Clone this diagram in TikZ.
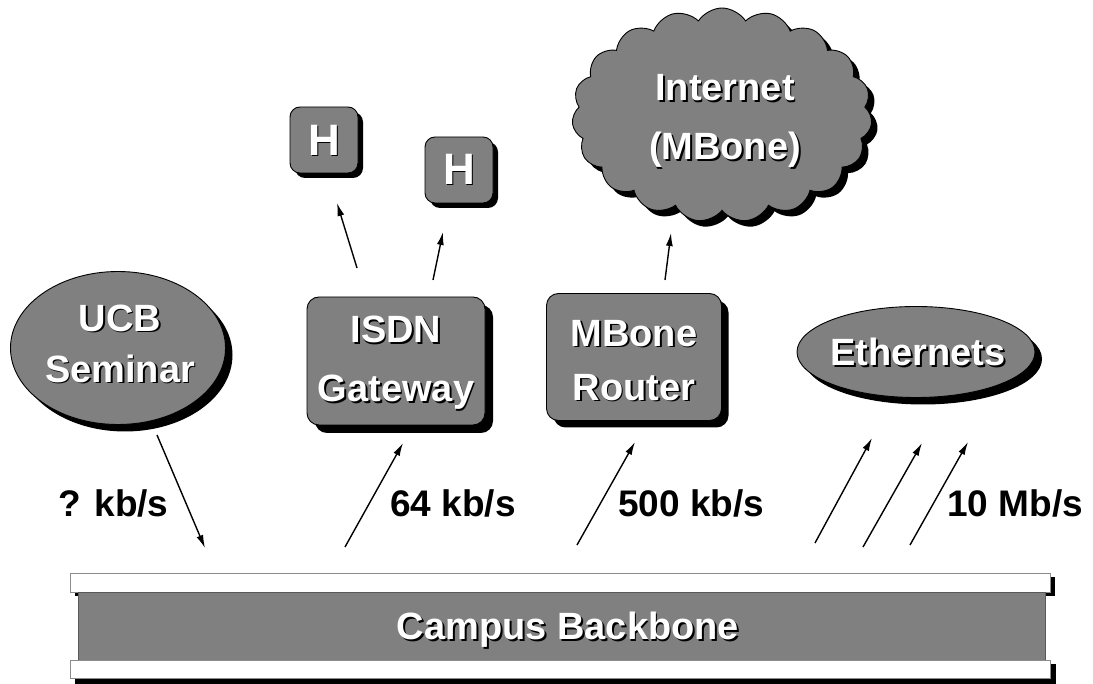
\documentclass[tikz,border=0pt]{standalone}
\usepackage{fontspec}
\setmainfont{Liberation Sans}
\usetikzlibrary{shapes.geometric,shapes.symbols,shadows,arrows.meta}

\definecolor{netgray}{RGB}{128,128,128}

% white lettering with a small black drop shadow
\newcommand\emb[1]{\leavevmode\rlap{\kern1.7pt\raisebox{-1.7pt}{\textcolor{black}{#1}}}\textcolor{white}{#1}}

\begin{document}
\begin{tikzpicture}[x=1pt,y=-1pt,
  unit/.style={fill=netgray, draw=black, line width=0.9pt, inner sep=0pt},
  unittext/.style={inner sep=0pt, align=center,
    font=\bfseries\fontsize{38}{50}\selectfont},
  boxshadow/.style={drop shadow={shadow xshift=#1, shadow yshift=-#1,
    fill=black, opacity=1}},
  boxshadow/.default=7pt,
  rate/.style={font=\bfseries\fontsize{37}{44}\selectfont, inner sep=0pt,
    anchor=base west},
  flow/.style={line width=1.4pt, -{Latex[length=13pt,width=7pt]}},
  bar/.style={fill=white, draw=black!45, line width=0.9pt}]

\useasboundingbox (0,0) rectangle (1093,684);

% ---- units ----
\node[unit, ellipse, minimum width=215pt, minimum height=153pt, boxshadow]
  (ucb) at (118,348) {};
\node[unittext] (ucb-text) at (120,344.5) {\emb{UCB}\\[1pt]\emb{Seminar}};

\node[unit, rounded corners=12pt, minimum width=178pt, minimum height=128pt,
  boxshadow=8pt] (isdn) at (396,361) {};
\node[unittext] (isdn-text) at (396,364) {\emb{ISDN}\\[9pt]\emb{Gateway}};

\node[unit, rounded corners=12pt, minimum width=175pt, minimum height=127pt,
  boxshadow=7pt] (router) at (634,357) {};
\node[unittext] (router-text) at (634,361) {\emb{MBone}\\[4pt]\emb{Router}};

\node[unit, ellipse, minimum width=238pt, minimum height=91pt, boxshadow]
  (eth) at (916,352) {};
\node[unittext] (eth-text) at (918,353) {\emb{Ethernets}};

\node[unit, rounded corners=10pt, minimum width=68pt, minimum height=66pt,
  boxshadow=5pt] (h1) at (324,140) {};
\node[unittext, font=\bfseries\fontsize{44}{50}\selectfont]
  (h1-text) at (324,141) {\emb{H}};
\node[unit, rounded corners=10pt, minimum width=68pt, minimum height=66pt,
  boxshadow=5pt] (h2) at (459,170) {};
\node[unittext, font=\bfseries\fontsize{44}{50}\selectfont]
  (h2-text) at (459,170) {\emb{H}};

\node[unit, cloud, cloud puffs=19, cloud puff arc=115, aspect=1.45,
  minimum width=300pt, minimum height=214pt, boxshadow=6pt]
  (inet) at (722,115) {};
\node[unittext] (inet-text) at (725,122) {\emb{Internet}\\[9pt]\emb{(MBone)}};

% ---- campus backbone ----
\fill[black] (75,577) rectangle (1055,596);
\draw[bar] (70,573) rectangle (1050,592);
\node[fill=netgray, draw=black!65, line width=0.9pt, inner sep=0pt,
  minimum width=967pt, minimum height=68pt, anchor=north west]
  (backbone) at (78,592) {};
\node[unittext, font=\bfseries\fontsize{38}{44}\selectfont]
  (backbone-text) at (568,631) {\emb{Campus Backbone}};
\fill[black] (75,664) rectangle (1056,684);
\draw[bar] (70,660) rectangle (1050,678);

% ---- connector end points ----
\coordinate (ucb-out) at (157,435);
\coordinate (bb-ucb)  at (205,548);
\coordinate (bb-isdn) at (345,547);
\coordinate (isdn-in) at (403,443);
\coordinate (bb-rt)   at (577,545);
\coordinate (rt-in)   at (635,442);
\coordinate (bb-e1)   at (815,543);
\coordinate (e1-in)   at (872,438);
\coordinate (bb-e2)   at (863,547);
\coordinate (e2-in)   at (922,443);
\coordinate (bb-e3)   at (910,545);
\coordinate (e3-in)   at (968,442);
\coordinate (isdn-h1) at (357,268);
\coordinate (h1-in)   at (337,203);
\coordinate (isdn-h2) at (433,280);
\coordinate (h2-in)   at (443,232);
\coordinate (rt-out)  at (665,280);
\coordinate (inet-in) at (671,233);

% ---- connectors ----
\draw[flow] (ucb-out) -- (bb-ucb);
\draw[flow] (bb-isdn) -- (isdn-in);
\draw[flow] (bb-rt) -- (rt-in);
\draw[flow] (bb-e1) -- (e1-in);
\draw[flow] (bb-e2) -- (e2-in);
\draw[flow] (bb-e3) -- (e3-in);
\draw[flow] (isdn-h1) -- (h1-in);
\draw[flow] (isdn-h2) -- (h2-in);
\draw[flow] (rt-out) -- (inet-in);

% ---- rates ----
\node[rate] (r-ucb)  at (58,516)  {? kb/s};
\node[rate] (r-isdn) at (390,516) {64 kb/s};
\node[rate] (r-rt)   at (618,516) {500 kb/s};
\node[rate] (r-eth)  at (947,516) {10 Mb/s};
\end{tikzpicture}
\end{document}
